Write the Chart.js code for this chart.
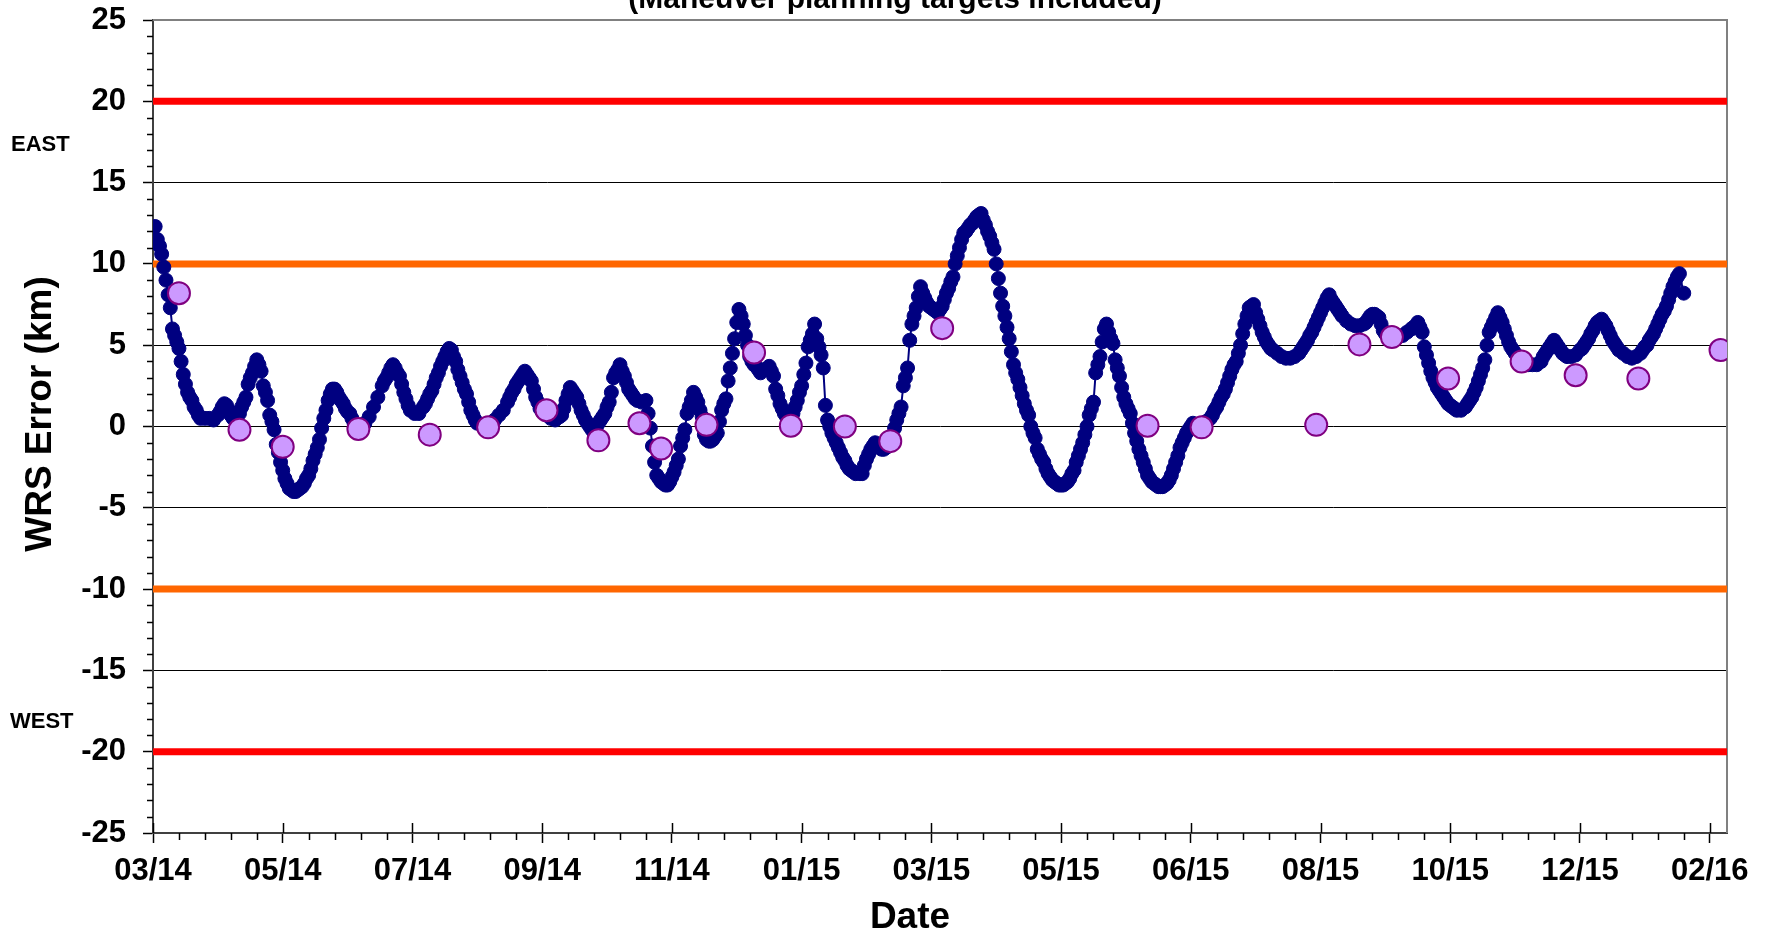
<!DOCTYPE html>
<html>
<head>
<meta charset="utf-8">
<title>WRS Error (km)</title>
<script src="https://cdn.jsdelivr.net/npm/chart.js@4.4.1/dist/chart.umd.min.js"></script>
<style>
    html, body { margin: 0; padding: 0; background: #fff; }
    #wrap { width: 1765px; height: 932px; position: relative; }
</style>
</head>
<body>
<div id="wrap"><canvas id="chartWrs"></canvas></div>
<script>
const FONT = "'Liberation Sans', Arial, Helvetica, sans-serif";

// x axis: days since the start of the axis (early 03/14), major mark every 60 days
const tickLabels = ['03/14', '05/14', '07/14', '09/14', '11/14', '01/15', '03/15',
                    '05/15', '06/15', '08/15', '10/15', '12/15', '02/16'];
const majorStepDays = 60;
const minorStepDays = 12;
const lastDay = 728;

const yMin = -25;
const yMax = 25;
const yStep = 5;

const redLimits = [20, -20];
const orangeLimits = [10, -10];

// [day, km]
const wrsError = [
    [0, 11.4], [1, 12.3], [2, 11.5], [3, 11.1], [4, 10.6], [5, 9.8], [6, 9.0], [7, 8.1], [8, 7.3], [9, 6.0], [10, 5.6], [11, 5.2],
    [12, 4.8], [13, 4.0], [14, 3.2], [15, 2.6], [16, 2.1], [17, 1.8], [18, 1.6], [19, 1.2], [20, 1.0], [21, 0.7], [22, 0.5], [24, 0.5],
    [26, 0.5], [28, 0.4], [30, 0.7], [31, 0.9], [32, 1.2], [33, 1.4], [34, 1.3], [35, 1.0], [36, 0.7], [37, 0.5], [38, 0.6], [40, 0.8],
    [41, 1.2], [42, 1.5], [43, 1.8], [44, 2.6], [45, 3.0], [46, 3.3], [47, 3.7], [48, 4.1], [49, 3.8], [50, 3.4], [51, 2.5], [52, 2.1],
    [53, 1.6], [54, 0.7], [55, 0.3], [56, -0.2], [57, -1.1], [58, -1.6], [59, -2.2], [60, -2.7], [61, -3.2], [62, -3.5], [63, -3.8], [64, -3.9],
    [65, -4.0], [66, -4.0], [67, -3.9], [68, -3.8], [69, -3.7], [70, -3.5], [71, -3.2], [72, -3.0], [73, -2.6], [74, -2.1], [75, -1.7], [76, -1.3],
    [77, -0.8], [78, -0.1], [79, 0.5], [80, 1.0], [81, 1.6], [82, 2.0], [83, 2.3], [84, 2.3], [85, 2.1], [86, 1.8], [87, 1.6], [88, 1.4],
    [89, 1.1], [90, 0.9], [91, 0.8], [92, 0.5], [93, 0.2], [94, 0.0], [96, 0.0], [98, 0.2], [100, 0.6], [102, 1.2], [104, 1.8], [106, 2.5],
    [107, 2.8], [108, 3.0], [109, 3.3], [110, 3.6], [111, 3.8], [112, 3.6], [113, 3.3], [114, 3.1], [115, 2.6], [116, 2.1], [117, 1.7], [118, 1.3],
    [119, 1.0], [121, 0.8], [123, 0.8], [125, 1.2], [126, 1.4], [127, 1.7], [128, 2.0], [129, 2.2], [130, 2.6], [131, 3.0], [132, 3.3], [133, 3.7],
    [134, 4.0], [135, 4.3], [136, 4.6], [137, 4.8], [138, 4.7], [139, 4.3], [140, 4.0], [141, 3.5], [142, 3.1], [143, 2.7], [144, 2.3], [145, 2.0],
    [146, 1.5], [147, 1.0], [148, 0.7], [149, 0.4], [150, 0.2], [152, 0.1], [154, 0.1], [156, 0.2], [158, 0.4], [160, 0.7], [162, 1.0], [164, 1.5],
    [165, 1.8], [166, 2.1], [167, 2.3], [168, 2.6], [169, 2.8], [170, 3.0], [171, 3.2], [172, 3.4], [173, 3.2], [174, 3.0], [175, 2.8], [176, 2.3],
    [177, 1.8], [178, 1.5], [179, 1.1], [180, 0.9], [182, 0.7], [184, 0.5], [186, 0.4], [188, 0.6], [189, 0.7], [190, 1.1], [191, 1.6], [192, 2.0],
    [193, 2.4], [194, 2.2], [195, 2.0], [196, 1.8], [197, 1.4], [198, 1.0], [199, 0.7], [200, 0.4], [201, 0.2], [202, 0.0], [203, -0.2], [204, -0.4],
    [205, -0.1], [206, 0.2], [207, 0.4], [208, 0.6], [209, 0.8], [210, 1.2], [211, 1.5], [212, 2.1], [213, 3.0], [214, 3.3], [215, 3.5], [216, 3.8],
    [217, 3.4], [218, 3.1], [219, 2.7], [220, 2.3], [221, 2.1], [222, 1.9], [223, 1.7], [224, 1.6], [226, 1.5], [228, 1.6], [229, 0.8], [230, -0.1],
    [231, -1.2], [232, -2.2], [233, -3.0], [234, -3.2], [235, -3.4], [236, -3.5], [237, -3.6], [238, -3.6], [239, -3.4], [240, -3.1], [241, -2.8], [242, -2.4],
    [243, -2.0], [244, -1.2], [245, -0.7], [246, -0.2], [247, 0.8], [248, 1.2], [249, 1.6], [250, 2.1], [251, 1.8], [252, 1.5], [253, 1.0], [254, 0.6],
    [255, -0.5], [256, -0.8], [257, -0.9], [258, -0.9], [259, -0.8], [260, -0.6], [261, -0.4], [262, 0.3], [263, 1.0], [264, 1.4], [265, 1.7], [266, 2.8],
    [267, 3.6], [268, 4.5], [269, 5.4], [270, 6.4], [271, 7.2], [272, 6.8], [273, 6.3], [274, 5.6], [275, 5.0], [276, 4.3], [277, 4.0], [278, 3.8],
    [279, 3.7], [280, 3.5], [281, 3.3], [283, 3.5], [285, 3.7], [286, 3.4], [287, 3.1], [288, 2.3], [289, 1.9], [290, 1.4], [291, 1.1], [292, 0.8],
    [293, 0.6], [294, 0.5], [295, 0.4], [296, 0.8], [297, 1.2], [298, 1.6], [299, 2.1], [300, 2.5], [301, 3.2], [302, 3.9], [303, 4.9], [304, 5.3],
    [305, 5.7], [306, 6.3], [307, 5.4], [308, 4.9], [309, 4.4], [310, 3.6], [311, 1.3], [312, 0.4], [313, 0.0], [314, -0.4], [315, -0.7], [316, -1.0],
    [317, -1.3], [318, -1.6], [319, -1.9], [320, -2.1], [321, -2.4], [322, -2.6], [323, -2.7], [324, -2.8], [325, -2.9], [327, -2.9], [328, -2.9], [329, -2.4],
    [330, -2.0], [331, -1.7], [332, -1.4], [333, -1.2], [334, -1.0], [335, -1.1], [336, -1.3], [337, -1.4], [338, -1.4], [339, -1.3], [340, -1.2], [341, -0.9],
    [342, -0.6], [343, -0.1], [344, 0.4], [345, 0.8], [346, 1.2], [347, 2.5], [348, 3.0], [349, 3.6], [350, 5.3], [351, 6.3], [352, 6.8], [353, 7.3],
    [354, 8.0], [355, 8.6], [356, 8.2], [357, 7.9], [358, 7.6], [359, 7.4], [360, 7.3], [361, 7.2], [362, 7.1], [363, 7.0], [364, 7.2], [365, 7.4],
    [366, 7.8], [367, 8.2], [368, 8.5], [369, 8.9], [370, 9.2], [371, 10.0], [372, 10.5], [373, 11.0], [374, 11.5], [375, 11.9], [376, 12.0], [377, 12.2],
    [378, 12.4], [379, 12.5], [380, 12.7], [381, 12.9], [382, 13.0], [383, 13.1], [384, 12.7], [385, 12.4], [386, 12.0], [387, 11.7], [388, 11.3], [389, 10.9],
    [390, 10.0], [391, 9.1], [392, 8.2], [393, 7.4], [394, 6.8], [395, 6.1], [396, 5.4], [397, 4.6], [398, 3.8], [399, 3.3], [400, 2.9], [401, 2.4],
    [402, 1.9], [403, 1.4], [404, 1.0], [405, 0.7], [406, 0.0], [407, -0.4], [408, -0.7], [409, -1.4], [410, -1.7], [411, -2.0], [412, -2.2], [413, -2.6],
    [414, -2.9], [415, -3.1], [416, -3.3], [417, -3.4], [418, -3.5], [419, -3.6], [420, -3.6], [421, -3.6], [422, -3.5], [423, -3.4], [424, -3.2], [425, -2.9],
    [426, -2.7], [427, -2.2], [428, -1.8], [429, -1.4], [430, -1.0], [431, -0.5], [432, 0.0], [433, 0.7], [434, 1.1], [435, 1.5], [436, 3.3], [437, 3.8],
    [438, 4.3], [439, 5.2], [440, 6.0], [441, 6.3], [442, 5.8], [443, 5.4], [444, 5.1], [445, 4.1], [446, 3.6], [447, 3.1], [448, 2.4], [449, 1.8],
    [450, 1.4], [451, 1.1], [452, 0.8], [453, 0.2], [454, -0.4], [455, -0.9], [456, -1.4], [457, -1.8], [458, -2.2], [459, -2.6], [460, -3.0], [461, -3.2],
    [462, -3.4], [463, -3.5], [464, -3.6], [465, -3.7], [466, -3.7], [467, -3.7], [468, -3.6], [469, -3.5], [470, -3.3], [471, -3.0], [472, -2.6], [473, -2.2],
    [474, -1.8], [475, -1.3], [476, -1.0], [477, -0.7], [478, -0.4], [479, -0.2], [480, 0.0], [481, 0.2], [483, 0.1], [485, 0.1], [487, 0.3], [489, 0.5],
    [490, 0.7], [491, 1.0], [492, 1.2], [493, 1.5], [494, 1.8], [495, 2.0], [496, 2.3], [497, 2.7], [498, 3.1], [499, 3.5], [500, 3.8], [501, 4.0],
    [502, 4.5], [503, 5.0], [504, 5.7], [505, 6.3], [506, 6.8], [507, 7.3], [508, 7.4], [509, 7.5], [510, 7.0], [511, 6.6], [512, 6.2], [513, 5.8],
    [514, 5.5], [515, 5.2], [516, 5.0], [517, 4.8], [518, 4.7], [520, 4.5], [522, 4.3], [524, 4.2], [526, 4.2], [528, 4.3], [530, 4.5], [531, 4.7],
    [532, 4.9], [533, 5.1], [534, 5.3], [535, 5.6], [536, 5.8], [537, 6.1], [538, 6.4], [539, 6.7], [540, 7.0], [541, 7.3], [542, 7.6], [543, 7.9],
    [544, 8.1], [545, 7.8], [546, 7.6], [547, 7.4], [548, 7.2], [549, 7.0], [550, 6.8], [552, 6.5], [554, 6.3], [556, 6.2], [558, 6.2], [560, 6.3],
    [561, 6.4], [562, 6.6], [563, 6.8], [564, 6.9], [565, 6.9], [566, 6.8], [567, 6.7], [568, 6.3], [569, 5.9], [570, 5.7], [571, 5.6], [572, 5.5],
    [574, 5.4], [576, 5.5], [578, 5.6], [580, 5.8], [582, 6.0], [583, 6.1], [584, 6.2], [585, 6.4], [586, 6.1], [587, 5.8], [588, 4.9], [589, 4.4],
    [590, 3.9], [591, 3.4], [592, 3.0], [593, 2.7], [594, 2.4], [595, 2.2], [596, 2.0], [597, 1.8], [598, 1.6], [599, 1.4], [600, 1.3], [601, 1.2],
    [602, 1.1], [603, 1.0], [605, 1.0], [607, 1.2], [608, 1.4], [609, 1.6], [610, 1.8], [611, 2.1], [612, 2.4], [613, 2.8], [614, 3.2], [615, 3.6],
    [616, 4.1], [617, 5.0], [618, 5.8], [619, 6.1], [620, 6.4], [621, 6.7], [622, 7.0], [623, 6.7], [624, 6.4], [625, 6.0], [626, 5.6], [627, 5.2],
    [628, 4.9], [629, 4.7], [630, 4.5], [631, 4.3], [632, 4.1], [633, 3.9], [634, 3.8], [636, 3.8], [638, 3.8], [640, 3.8], [642, 4.0], [643, 4.3],
    [644, 4.5], [645, 4.7], [646, 4.9], [647, 5.1], [648, 5.3], [649, 5.1], [650, 4.9], [651, 4.7], [652, 4.5], [653, 4.4], [654, 4.3], [656, 4.3],
    [658, 4.4], [660, 4.7], [661, 4.8], [662, 5.0], [663, 5.2], [664, 5.4], [665, 5.7], [666, 5.9], [667, 6.2], [668, 6.4], [669, 6.5], [670, 6.6],
    [671, 6.4], [672, 6.2], [673, 5.9], [674, 5.6], [675, 5.3], [676, 5.1], [677, 4.9], [678, 4.7], [680, 4.5], [682, 4.3], [684, 4.2], [686, 4.3],
    [688, 4.5], [689, 4.7], [690, 4.9], [691, 5.0], [692, 5.3], [693, 5.5], [694, 5.7], [695, 6.0], [696, 6.3], [697, 6.6], [698, 6.9], [699, 7.1],
    [700, 7.4], [701, 7.8], [702, 8.2], [703, 8.6], [704, 8.9], [705, 9.2], [706, 9.4], [708, 8.2]
];

// maneuver planning targets [day, km]
const targets = [
    [12, 8.2], [40, -0.2], [60, -1.25], [95, -0.15], [128, -0.5], [155, -0.05], [182, 1.0],
    [206, -0.85], [225, 0.2], [235, -1.35], [256, 0.1], [278, 4.55], [295, 0.05], [320, 0.0],
    [341, -0.9], [365, 6.05], [460, 0.05], [485, -0.05], [538, 0.1], [558, 5.05], [573, 5.5],
    [599, 2.95], [633, 4.0], [658, 3.15], [687, 2.95], [725, 4.7]
];

const eastAt = 17.3;
const westAt = -18.2;

const canvas = document.getElementById('chartWrs');
const context = canvas.getContext('2d');

const toPoints = pairs => pairs.map(([x, y]) => ({ x, y }));

const limitLine = (value, color) => ({
    label: 'limit ' + value,
    data: [{ x: 0, y: value }, { x: lastDay, y: value }],
    showLine: true,
    borderColor: color,
    borderWidth: 7,
    borderCapStyle: 'butt',
    pointRadius: 0,
    clip: false
})

const bold = size => ({ family: FONT, size: size, weight: 'bold' });

// frame, minor ticks and free texts (Excel style)
const decor = {
    id: 'decor',
    beforeDatasetsDraw(chart) {
        const { ctx, chartArea: a, scales: { x, y } } = chart;
        ctx.save();
        ctx.strokeStyle = '#808080';
        ctx.lineWidth = 2;
        ctx.beginPath();
        ctx.moveTo(a.left, a.top);
        ctx.lineTo(a.right, a.top);
        ctx.lineTo(a.right, a.bottom);
        ctx.stroke();

        ctx.strokeStyle = '#000';
        ctx.lineWidth = 1.5;
        ctx.beginPath();
        for (let v = yMin; v <= yMax; v += 1) {
            if (v % yStep === 0) continue;
            const py = Math.round(y.getPixelForValue(v)) + 0.5;
            ctx.moveTo(a.left - 6, py);
            ctx.lineTo(a.left, py);
        }
        for (let d = 0; d <= lastDay; d += minorStepDays) {
            const px = Math.round(x.getPixelForValue(d)) + 0.5;
            if (d % majorStepDays === 0) {
                ctx.moveTo(px, a.bottom - 10);
                ctx.lineTo(px, a.bottom);
            } else {
                ctx.moveTo(px, a.bottom);
                ctx.lineTo(px, a.bottom + 7);
            }
        }
        ctx.stroke();
        ctx.restore();
    },
    afterDraw(chart) {
        const { ctx, scales: { y } } = chart;
        ctx.save();
        ctx.fillStyle = '#000';

        ctx.font = 'bold 30px ' + FONT;
        ctx.textAlign = 'center';
        ctx.textBaseline = 'alphabetic';
        ctx.fillText('(Maneuver planning targets included)', 895, 8);

        ctx.font = 'bold 37px ' + FONT;
        ctx.fillText('Date', 910, 928);

        ctx.save();
        ctx.translate(51, 414);
        ctx.rotate(-Math.PI / 2);
        ctx.fillText('WRS Error (km)', 0, 0);
        ctx.restore();

        ctx.font = 'bold 22px ' + FONT;
        ctx.textAlign = 'left';
        ctx.textBaseline = 'middle';
        ctx.fillText('EAST', 11, y.getPixelForValue(eastAt));
        ctx.fillText('WEST', 10, y.getPixelForValue(westAt));
        ctx.restore();
    }
};

const chartWrs = new Chart(context, {
    type: 'scatter',
    data: {
        datasets: [
            {
                label: 'Targets',
                data: toPoints(targets),
                showLine: false,
                pointRadius: 11,
                pointBackgroundColor: '#CC99FF',
                pointBorderColor: '#800080',
                pointBorderWidth: 2
            },
            {
                label: 'WRS Error',
                data: toPoints(wrsError),
                showLine: true,
                borderColor: '#000080',
                borderWidth: 2,
                pointRadius: 7,
                pointBackgroundColor: '#000080',
                pointBorderColor: '#000080',
                pointBorderWidth: 1
            },
            ...orangeLimits.map(v => limitLine(v, '#FF6600')),
            ...redLimits.map(v => limitLine(v, '#FF0000'))
        ]
    },
    options: {
        responsive: true,
        maintainAspectRatio: false,
        animation: false,
        layout: { padding: { top: 20, right: 38, bottom: 0, left: 0 } },
        plugins: {
            legend: { display: false },
            tooltip: { enabled: false }
        },
        scales: {
            x: {
                type: 'linear',
                min: 0,
                max: lastDay,
                afterBuildTicks: scale => {
                    scale.ticks = tickLabels.map((_, i) => ({ value: i * majorStepDays }))
                },
                afterFit: scale => {
                    scale.height = 99
                    scale.paddingLeft = 0
                    scale.paddingRight = 0
                },
                ticks: {
                    callback: (value, index) => tickLabels[index],
                    autoSkip: false,
                    maxRotation: 0,
                    padding: 10,
                    color: '#000',
                    font: bold(31)
                },
                grid: { drawOnChartArea: false, tickLength: 10, tickColor: '#000', tickWidth: 1.5 },
                border: { color: '#404040', width: 2 }
            },
            y: {
                min: yMin,
                max: yMax,
                afterFit: scale => {
                    scale.width = 153
                    scale.paddingTop = 0
                    scale.paddingBottom = 0
                },
                ticks: {
                    stepSize: yStep,
                    padding: 17,
                    color: '#000',
                    font: bold(31)
                },
                grid: { color: '#000', lineWidth: 1, tickLength: 10, tickColor: '#000', tickWidth: 1.5 },
                border: { color: '#404040', width: 2 }
            }
        }
    },
    plugins: [decor]
})
</script>
</body>
</html>
